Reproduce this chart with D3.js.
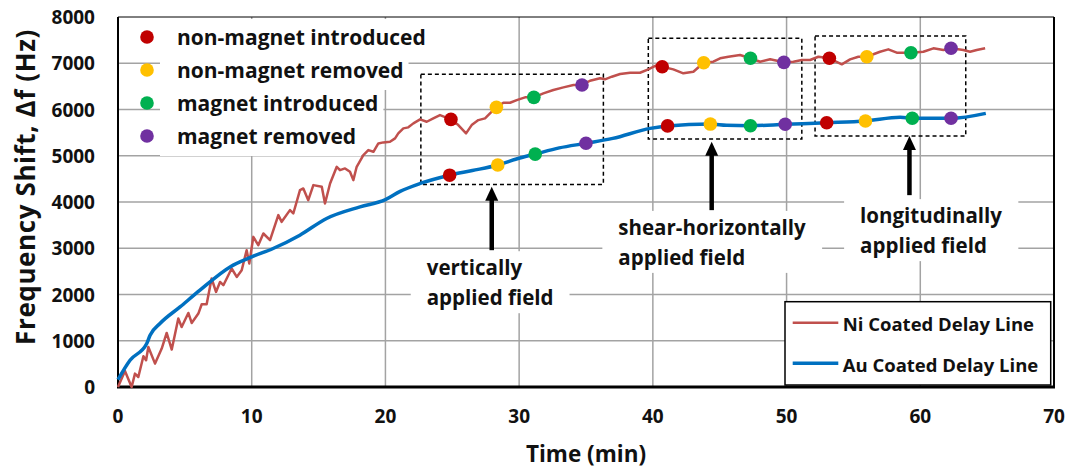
<!DOCTYPE html>
<html>
<head>
<meta charset="utf-8">
<script src="https://cdn.jsdelivr.net/npm/d3@7"></script>
<style>
	body { margin: 0; background: #fff; }
	text { font-family: "Open Sans", Lato, sans-serif; font-weight: bold; fill: #111; }
</style>
</head>
<body>
<svg id="fig" width="1073" height="468"></svg>
<script>

// ---- data ----

var xTicks = [0, 10, 20, 30, 40, 50, 60, 70],
	yTicks = [0, 1000, 2000, 3000, 4000, 5000, 6000, 7000, 8000];

// Ni coated delay line: [time (min), shift (Hz)]
var niData = [
	[0,0],[0.52,346],[1.02,0],[1.27,290],[1.52,216],[1.9,664],[2.1,578],[2.27,866],[2.77,506],
	[3.27,831],[3.64,1169],[4.02,809],[4.51,1480],[4.76,1298],[5.26,1601],[5.51,1385],[6.01,1588],
	[6.26,1790],[6.63,1790],[7.0,2346],[7.33,2056],[7.63,2272],[7.88,2201],[8.25,2417],[8.5,2562],
	[8.88,2380],[9.25,2525],[9.62,2958],[9.82,2670],[10.12,3246],[10.49,3066],[10.87,3319],
	[11.37,3175],[11.99,3716],[12.24,3571],[12.86,3824],[13.11,3752],[13.61,4257],[13.86,4293],
	[14.23,4040],[14.61,4365],[15.24,4328],[15.48,3969],[15.86,4401],[16.36,4761],[16.6,4689],
	[16.98,4726],[17.35,4653],[17.6,4473],[17.85,4761],[18.35,5014],[18.72,5122],[19.1,5086],
	[19.47,5267],[19.84,5289],[20.34,5302],[20.72,5375],[20.96,5484],[21.34,5592],[21.71,5614],
	[22.09,5700],[22.59,5787],[23.09,5735],[23.58,5808],[24.08,5880],[24.9,5786],[25.45,5663],
	[26.03,5484],[26.45,5663],[26.95,5771],[27.45,5808],[27.82,5916],[28.3,6046],[28.82,6146],
	[29.32,6146],[29.82,6204],[30.44,6263],[31.1,6263],[31.81,6349],[32.56,6421],[33.31,6479],
	[34.06,6529],[34.7,6529],[35.3,6622],[36.05,6674],[36.42,6652],[36.93,6709],[37.55,6767],
	[38.3,6795],[39.04,6795],[39.66,6868],[40.29,6961],[40.7,6925],[41.53,6868],[42.28,6782],
	[43.03,6817],[43.8,7011],[44.52,7033],[45.03,7107],[45.65,7141],[46.52,7178],[47.3,7107],
	[48.02,7033],[48.77,7085],[49.8,7020],[50.51,7033],[51.14,7070],[51.76,7070],[52.38,7141],
	[53.2,7107],[54.13,6977],[54.75,7085],[55.37,7141],[56.0,7141],[56.99,7249],[57.61,7301],
	[58.24,7228],[59.3,7228],[60.23,7249],[60.98,7323],[61.73,7287],[62.3,7323],[63.22,7287],
	[63.72,7249],[64.22,7287],[64.85,7323]
];

// Au coated delay line
var auData = [
	[0,160],[0.9,578],[2.15,939],[2.4,1119],[3.14,1372],[4.64,1731],[6.13,2093],[8.38,2597],
	[10,2813],[11.6,2995],[13.6,3283],[15.6,3644],[18.1,3895],[20,4050],[21.1,4230],[22.6,4401],
	[24.8,4580],[26.5,4680],[28.4,4800],[29.8,4930],[31.2,5036],[33,5170],[35.0,5270],[37.0,5375],
	[39.8,5592],[41.1,5645],[44.3,5685],[45.5,5660],[47.3,5650],[49.9,5680],[53.0,5713],
	[55.9,5750],[58.5,5830],[59.4,5810],[62.3,5810],[64.9,5916]
];

var eventNames = ["non-magnet introduced", "non-magnet removed", "magnet introduced", "magnet removed"];

// event markers, one list per event, [time, shift]
var niEvents = [
	[[24.9,5786],[40.7,6925],[53.2,7107]],
	[[28.3,6046],[43.8,7011],[56.0,7141]],
	[[31.1,6263],[47.3,7107],[59.3,7228]],
	[[34.7,6529],[49.8,7020],[62.3,7323]]
];
var auEvents = [
	[[24.8,4580],[41.1,5645],[53.0,5713]],
	[[28.4,4800],[44.3,5685],[55.9,5750]],
	[[31.2,5036],[47.3,5650],[59.4,5810]],
	[[35.0,5270],[49.9,5680],[62.3,5810]]
];

var seriesNames = ["Ni Coated Delay Line", "Au Coated Delay Line"];

var fieldLabels = [
	["vertically", "applied field"],
	["shear-horizontally", "applied field"],
	["longitudinally", "applied field"]
];

// ---- setup ----

var eventCols = ["#c00000", "#ffc000", "#00b050", "#7030a0"],
	seriesCols = ["#c0504d", "#0070c0"];

var m = [17, 19, 81, 118],
	width = 1073,
	height = 468;

var svg = d3.select("#fig");

var xScale = d3.scaleLinear().domain([0, 70]).range([m[3], width - m[1]]),
	yScale = d3.scaleLinear().domain([0, 8000]).range([height - m[2], m[0]]);

// grid
svg.append("g")
	.selectAll("line")
	.data(xTicks.slice(1, -1))
	.enter()
	.append("line")
	.attr("x1", d => xScale(d)).attr("x2", d => xScale(d))
	.attr("y1", yScale(0)).attr("y2", yScale(8000))
	.attr("stroke", "#a3a3a3").attr("stroke-width", 1.5);

svg.append("g")
	.selectAll("line")
	.data(yTicks.slice(1, -1))
	.enter()
	.append("line")
	.attr("x1", xScale(0)).attr("x2", xScale(70))
	.attr("y1", d => yScale(d)).attr("y2", d => yScale(d))
	.attr("stroke", "#a3a3a3").attr("stroke-width", 1.5);

// white boxes behind text, drawn after grid
var bgLayer = svg.append("g");

// frame
svg.append("line").attr("x1", xScale(0)).attr("x2", xScale(70))
	.attr("y1", yScale(8000)).attr("y2", yScale(8000)).attr("stroke", "#000").attr("stroke-width", 1);
svg.append("line").attr("x1", xScale(70)).attr("x2", xScale(70))
	.attr("y1", yScale(8000)).attr("y2", yScale(0)).attr("stroke", "#000").attr("stroke-width", 2);
svg.append("line").attr("x1", xScale(0)).attr("x2", xScale(0))
	.attr("y1", yScale(8000)).attr("y2", yScale(0)).attr("stroke", "#000").attr("stroke-width", 2);
svg.append("line").attr("x1", xScale(0) - 1).attr("x2", xScale(70) + 1)
	.attr("y1", yScale(0)).attr("y2", yScale(0)).attr("stroke", "#000").attr("stroke-width", 3);

// tick labels
svg.append("g")
	.selectAll("text")
	.data(yTicks)
	.enter()
	.append("text")
	.attr("x", 95)
	.attr("y", d => yScale(d))
	.attr("text-anchor", "end")
	.attr("dominant-baseline", "central")
	.style("font-size", "19px")
	.text(d => d);

svg.append("g")
	.selectAll("text")
	.data(xTicks)
	.enter()
	.append("text")
	.attr("x", d => xScale(d))
	.attr("y", 416)
	.attr("text-anchor", "middle")
	.attr("dominant-baseline", "central")
	.style("font-size", "19px")
	.text(d => d);

svg.append("text")
	.attr("x", (xScale(0) + xScale(70)) / 2)
	.attr("y", 453)
	.attr("text-anchor", "middle")
	.attr("dominant-baseline", "central")
	.style("font-size", "22.5px")
	.text("Time (min)");

svg.append("text")
	.attr("transform", "translate(25,187) rotate(-90)")
	.attr("text-anchor", "middle")
	.attr("dominant-baseline", "central")
	.style("font-size", "26px")
	.style("letter-spacing", "0.6px")
	.text("Frequency Shift, \u0394f (Hz)");

// dashed boxes round the three field groups
var boxes = [[22.65, 36.3, 4380, 6760], [39.66, 51.14, 5360, 7539], [52.13, 63.4, 5425, 7589]];
svg.append("g")
	.selectAll("rect")
	.data(boxes)
	.enter()
	.append("rect")
	.attr("x", d => xScale(d[0]))
	.attr("y", d => yScale(d[3]))
	.attr("width", d => xScale(d[1]) - xScale(d[0]))
	.attr("height", d => yScale(d[2]) - yScale(d[3]))
	.attr("fill", "none")
	.attr("stroke", "#000")
	.attr("stroke-width", 1.5)
	.attr("stroke-dasharray", "4,3");

// arrows
var arrowPos = [[27.95, 4328, 2958], [44.4, 5302, 3824], [59.19, 5425, 4148]];
var arrows = svg.append("g");
arrowPos.forEach(function(a) {
	let x = xScale(a[0]), tip = yScale(a[1]), end = yScale(a[2]);
	arrows.append("line")
		.attr("x1", x).attr("x2", x)
		.attr("y1", tip + 10).attr("y2", end)
		.attr("stroke", "#000").attr("stroke-width", 4.5);
	arrows.append("path")
		.attr("d", `M ${x} ${tip} L ${x + 6.5} ${tip + 14} L ${x - 6.5} ${tip + 14} Z`)
		.attr("fill", "#000");
});

// field labels
var labelPos = [[23.09, 2590], [37.42, 3462], [55.5, 3716]];
fieldLabels.forEach(function(lines, i) {
	let g = svg.append("g");
	lines.forEach(function(t, j) {
		g.append("text")
			.attr("x", xScale(labelPos[i][0]))
			.attr("y", yScale(labelPos[i][1]) + j * 30)
			.attr("dominant-baseline", "central")
			.style("font-size", "20.5px")
			.text(t);
	});
	let bb = g.node().getBBox();
	bgLayer.append("rect")
		.attr("x", bb.x - 16).attr("y", bb.y - 2)
		.attr("width", bb.width + 32).attr("height", bb.height + 4)
		.attr("fill", "#fff");
});

// series lines
var line = d3.line().x(d => xScale(d[0])).y(d => yScale(d[1]));

svg.append("path")
	.datum(niData)
	.attr("d", line)
	.attr("fill", "none")
	.attr("stroke", seriesCols[0])
	.attr("stroke-width", 2.5)
	.attr("stroke-linejoin", "round");

svg.append("path")
	.datum(auData)
	.attr("d", line.curve(d3.curveMonotoneX))
	.attr("fill", "none")
	.attr("stroke", seriesCols[1])
	.attr("stroke-width", 3.5)
	.attr("stroke-linejoin", "round");

// event markers
[niEvents, auEvents].forEach(function(ev) {
	ev.forEach(function(pts, k) {
		svg.append("g")
			.selectAll("circle")
			.data(pts)
			.enter()
			.append("circle")
			.attr("cx", d => xScale(d[0]))
			.attr("cy", d => yScale(d[1]))
			.attr("r", 6.8)
			.attr("fill", eventCols[k]);
	});
});

// event legend (top left)
eventNames.forEach(function(name, k) {
	let cy = 37 + k * 33;
	let t = svg.append("text")
		.attr("x", 177)
		.attr("y", cy)
		.attr("dominant-baseline", "central")
		.style("font-size", "21px")
		.text(name);
	let bb = t.node().getBBox();
	bgLayer.append("rect")
		.attr("x", 160).attr("y", bb.y - 4)
		.attr("width", bb.x + bb.width + 5 - 160).attr("height", bb.height + 10)
		.attr("fill", "#fff");
	svg.append("circle")
		.attr("cx", 147).attr("cy", cy)
		.attr("r", 6.8)
		.attr("fill", eventCols[k]);
});

// series legend (bottom right)
var lg = svg.append("g");
lg.append("rect")
	.attr("x", 785).attr("y", 301.7)
	.attr("width", 265.7).attr("height", 83.3)
	.attr("fill", "#fff")
	.attr("stroke", "#000")
	.attr("stroke-width", 1.5);
seriesNames.forEach(function(name, k) {
	let cy = 322.7 + k * 40.6;
	lg.append("line")
		.attr("x1", 792.7).attr("x2", 838.3)
		.attr("y1", cy).attr("y2", cy)
		.attr("stroke", seriesCols[k])
		.attr("stroke-width", k == 0 ? 2.5 : 3.5);
	lg.append("text")
		.attr("x", 842.7)
		.attr("y", cy + 1)
		.attr("dominant-baseline", "central")
		.style("font-size", "18.5px")
		.text(name);
});

</script>
</body>
</html>
